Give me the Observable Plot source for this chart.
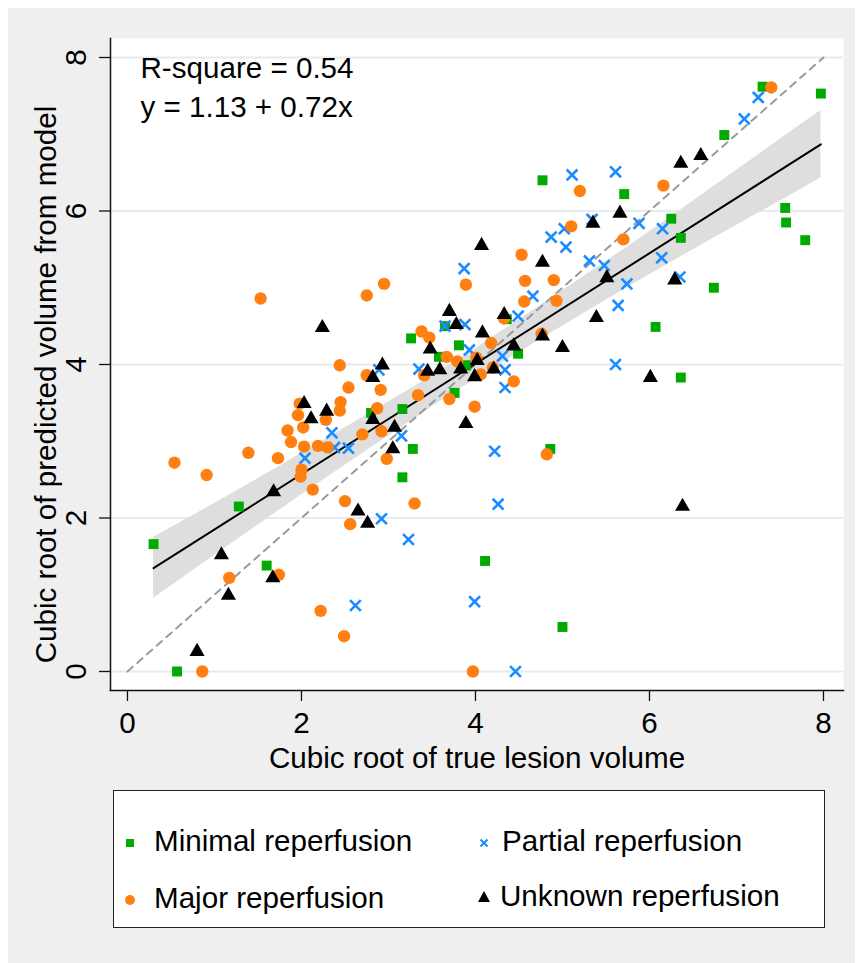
<!DOCTYPE html>
<html>
<head>
<meta charset="utf-8">
<script src="https://cdn.jsdelivr.net/npm/d3@7"></script>
<script src="https://cdn.jsdelivr.net/npm/@observablehq/plot@0.6"></script>
<style>
  body { margin: 8px; background: #ffffff; font-family: "Liberation Sans", Arial, sans-serif; }
  #wrap { width: 855px; height: 960px; background: #efefef; position: relative; }
  #chart svg { display: block; }
  #legend { position: absolute; left: 105px; top: 782px; width: 712px; height: 138px; background: #fff; border: 1.5px solid #222; box-sizing: border-box; }
  .item { position: absolute; height: 34px; line-height: 34px; font-size: 29.6px; color: #000; white-space: nowrap; }
  .sym { position: absolute; }
</style>
</head>
<body>
<div id="wrap">
  <div id="chart"></div>
  <div id="legend"></div>
</div>
<script>
// ---- data ----
const minimalX = [0.30,0.57,1.28,1.60,2.80,3.16,3.16,3.28,3.26,3.58,3.65,3.76,3.81,3.89,4.11,4.36,4.49,4.77,4.86,5.00,5.71,6.07,6.25,6.36,6.36,6.74,6.86,7.30,7.56,7.57,7.79,7.97];
const minimalY = [1.66,0.00,2.15,1.38,3.37,3.42,2.53,2.90,4.34,4.10,4.50,3.63,4.25,3.99,1.44,4.59,4.14,6.40,2.90,0.58,6.22,4.49,5.90,5.65,3.83,5.00,6.99,7.62,6.04,5.85,5.62,7.53];

const partialX = [2.04,2.35,2.38,2.54,2.62,2.89,2.92,3.15,3.23,3.35,3.65,3.87,3.88,3.93,3.99,4.22,4.26,4.31,4.34,4.34,4.46,4.49,4.66,4.87,5.02,5.04,5.11,5.31,5.34,5.48,5.61,5.61,5.64,5.74,5.88,6.14,6.15,6.35,7.09,7.25];
const partialY = [2.78,3.11,2.92,2.91,0.86,3.93,1.99,3.07,1.72,3.94,4.50,5.25,4.52,4.19,0.91,2.87,2.18,4.11,3.93,3.70,0.00,4.63,4.89,5.66,5.77,5.53,6.47,5.35,5.89,5.29,6.51,4.00,4.77,5.05,5.84,5.39,5.77,5.14,7.20,7.48];

const majorX = [0.54,0.86,0.91,1.17,1.39,1.53,1.73,1.74,1.84,1.88,1.96,1.98,1.99,2.00,2.02,2.03,2.13,2.19,2.22,2.28,2.30,2.44,2.44,2.45,2.49,2.50,2.54,2.56,2.70,2.75,2.75,2.87,2.91,2.92,2.95,2.98,3.30,3.34,3.38,3.41,3.47,3.67,3.70,3.79,3.89,3.97,3.99,4.01,4.06,4.18,4.20,4.33,4.44,4.53,4.56,4.57,4.76,4.82,4.90,4.93,5.10,5.20,5.70,6.16,7.40];
const majorY = [2.72,0.00,2.56,1.22,2.85,4.86,2.78,1.26,3.14,2.99,3.34,3.49,2.54,2.63,3.18,2.93,2.37,2.94,0.79,3.28,2.92,3.99,3.40,3.51,0.46,2.22,3.70,1.92,3.09,4.90,3.86,3.43,3.67,3.13,5.05,2.77,2.19,3.60,4.43,3.86,4.35,4.10,3.55,4.04,5.04,0.00,3.45,4.09,3.87,4.28,3.96,4.60,3.78,5.43,4.82,5.09,4.40,2.83,5.10,4.83,5.80,6.26,5.63,6.33,7.61];

const unknownX = [0.80,1.08,1.16,1.67,1.68,2.03,2.11,2.24,2.29,2.65,2.76,2.82,2.82,2.93,3.05,3.07,3.45,3.48,3.59,3.70,3.78,3.83,3.89,3.99,4.02,4.07,4.08,4.21,4.33,4.44,4.77,4.77,5.00,5.35,5.39,5.51,5.66,6.01,6.29,6.36,6.38,6.59];
const unknownY = [0.26,1.52,0.99,1.22,2.34,3.49,3.29,4.48,3.39,2.09,1.93,3.83,3.28,3.99,2.90,3.18,3.91,4.20,3.93,4.69,4.52,3.94,3.23,3.84,4.05,5.55,4.41,3.94,4.65,4.24,5.33,4.37,4.22,5.84,4.61,5.13,5.97,3.83,5.10,6.62,2.15,6.72];

// fitted line  y = 1.13 + 0.72x  and its confidence band
const fitX = [0.30, 7.97];
const fitY = [1.346, 6.868];
const bandX  = [0.30, 1.00, 2.00, 3.00, 4.00, 5.00, 6.00, 7.00, 7.97];
const bandLo = [0.95, 1.51, 2.30, 3.07, 3.81, 4.50, 5.17, 5.81, 6.43];
const bandHi = [1.75, 2.19, 2.84, 3.51, 4.21, 4.96, 5.73, 6.53, 7.31];
// 45-degree reference line
const diagX = [0, 8];
const diagY = [0, 8];

const xTicks = [0, 2, 4, 6, 8];
const yTicks = [0, 2, 4, 6, 8];
const xTitle = "Cubic root of true lesion volume";
const yTitle = "Cubic root of predicted volume from model";
const annot1 = "R-square = 0.54";
const annot2 = "y = 1.13 + 0.72x";
const seriesNames = ["Minimal reperfusion", "Partial reperfusion", "Major reperfusion", "Unknown reperfusion"];
const colors = {minimal: "#00aa00", partial: "#1a8cff", major: "#ff8010", unknown: "#000000"};

// ---- tables ----
const zipXY = (xs, ys) => xs.map((x, i) => ({x, y: ys[i]}));
const minimal = zipXY(minimalX, minimalY);
const partial = zipXY(partialX, partialY);
const major = zipXY(majorX, majorY);
const unknown = zipXY(unknownX, unknownY);
const band = bandX.map((x, i) => ({x, lo: bandLo[i], hi: bandHi[i]}));
const fit = zipXY(fitX, fitY);
const diag = zipXY(diagX, diagY);

const FONT = "Liberation Sans, Arial, Helvetica, sans-serif";
const FS = 29.6;

const plot = Plot.plot({
  width: 855,
  height: 772,
  marginLeft: 102,
  marginRight: 20,
  marginTop: 30,
  marginBottom: 90,
  style: {fontFamily: FONT, fontSize: FS + "px", background: "transparent", color: "#000", overflow: "visible"},
  x: {domain: [-0.195, 8.23], label: null},
  y: {domain: [-0.2476, 8.2476], label: null},
  marks: [
    Plot.frame({fill: "white", stroke: null}),
    Plot.gridY(yTicks, {stroke: "#e4ecef", strokeOpacity: 1, strokeWidth: 2}),
    Plot.areaY(band, {x: "x", y1: "lo", y2: "hi", fill: "#dedede", curve: "natural"}),
    Plot.line(diag, {x: "x", y: "y", stroke: "#9a9a9a", strokeWidth: 2, strokeDasharray: "7,6"}),
    Plot.line(fit, {x: "x", y: "y", stroke: "#000", strokeWidth: 2}),
    Plot.dot(minimal, {x: "x", y: "y", symbol: "square", r: 5.6, fill: colors.minimal, stroke: null}),
    Plot.dot(partial, {x: "x", y: "y", symbol: "times", r: 5, stroke: colors.partial, strokeWidth: 2.6}),
    Plot.dot(major, {x: "x", y: "y", symbol: "circle", r: 6.2, fill: colors.major, stroke: null}),
    Plot.dot(unknown, {x: "x", y: "y", symbol: "triangle", r: 5.6, fill: colors.unknown, stroke: null}),
    Plot.frame({anchor: "bottom", stroke: "#111", strokeWidth: 1.5}),
    Plot.frame({anchor: "left", stroke: "#111", strokeWidth: 1.5}),
    Plot.axisX({ticks: xTicks, tickSize: 11, tickPadding: 10, fontSize: FS, label: null, stroke: "#111", strokeWidth: 1.3}),
    Plot.axisY({ticks: yTicks, tickSize: 11, tickFormat: () => "", label: null, stroke: "#111", strokeWidth: 1.3}),
    Plot.text(yTicks, {y: d => d, text: d => String(d), frameAnchor: "left", textAnchor: "middle", lineAnchor: "middle", rotate: -90, dx: -34, fontSize: FS}),
    Plot.text([yTitle], {text: d => d, frameAnchor: "left", textAnchor: "middle", lineAnchor: "middle", rotate: -90, dx: -64, dy: 20, fontSize: FS}),
    Plot.text([xTitle], {text: d => d, frameAnchor: "bottom", lineAnchor: "middle", dy: 68, fontSize: FS}),
    Plot.text([annot1], {text: d => d, frameAnchor: "top-left", textAnchor: "start", lineAnchor: "middle", dx: 30, dy: 30, fontSize: FS}),
    Plot.text([annot2], {text: d => d, frameAnchor: "top-left", textAnchor: "start", lineAnchor: "middle", dx: 30, dy: 69, fontSize: FS})
  ]
});
document.getElementById("chart").appendChild(plot);

// ---- legend ----
const legend = document.getElementById("legend");
const symSvg = {
  minimal: `<svg width="12" height="12"><rect x="2" y="2" width="8" height="8" fill="${colors.minimal}"/></svg>`,
  partial: `<svg width="12" height="12"><path d="M2.5,2.5L9.5,9.5M9.5,2.5L2.5,9.5" stroke="${colors.partial}" stroke-width="2"/></svg>`,
  major: `<svg width="12" height="12"><circle cx="6" cy="6" r="5" fill="${colors.major}"/></svg>`,
  unknown: `<svg width="14" height="14"><path d="M7,1L13,12L1,12Z" fill="${colors.unknown}"/></svg>`
};
const items = [
  {key: "minimal", name: seriesNames[0], sx: 10, tx: 40, cy: 50},
  {key: "partial", name: seriesNames[1], sx: 364, tx: 388, cy: 50},
  {key: "major", name: seriesNames[2], sx: 10, tx: 40, cy: 107},
  {key: "unknown", name: seriesNames[3], sx: 363, tx: 386, cy: 105}
];
for (const it of items) {
  const s = document.createElement("div");
  s.className = "sym";
  s.style.left = it.sx + "px";
  s.style.top = (it.cy - 6) + "px";
  s.innerHTML = symSvg[it.key];
  legend.appendChild(s);
  const t = document.createElement("div");
  t.className = "item";
  t.style.left = it.tx + "px";
  t.style.top = (it.cy - 17) + "px";
  t.textContent = it.name;
  legend.appendChild(t);
}
</script>
</body>
</html>
